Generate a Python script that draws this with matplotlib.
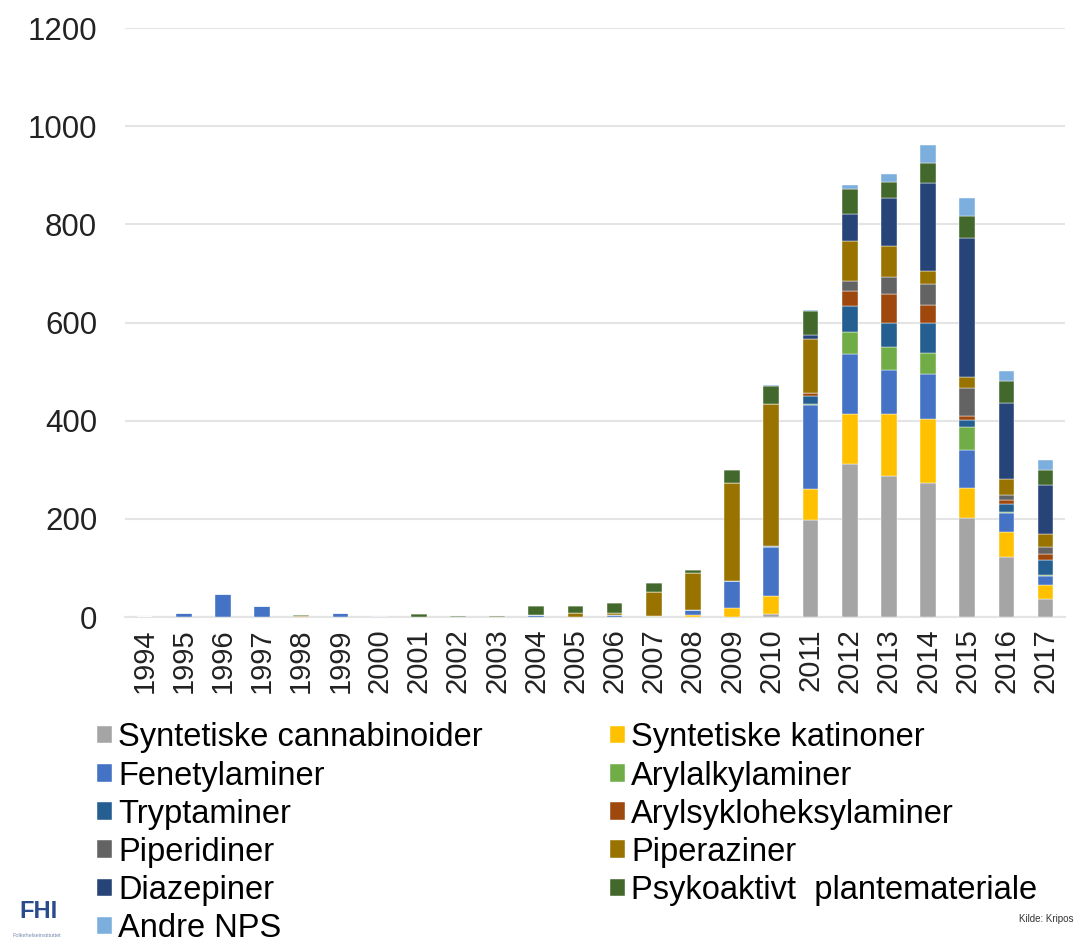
import matplotlib.pyplot as plt
import numpy as np

plt.rcParams['font.family'] = ['Liberation Sans', 'DejaVu Sans']

years = [str(y) for y in range(1994, 2018)]

# beslag per stoffgruppe og år (1994-2017)
cannabinoider = [0, 0, 0, 0, 0, 0, 0, 0, 0, 0, 0, 0, 0, 0, 0, 0, 7, 198, 311, 287, 273, 202, 122, 37]
katinoner     = [0, 0, 0, 0, 0, 0, 0, 0, 0, 0, 0, 0, 0, 0, 4, 18, 36, 62, 103, 126, 130, 61, 52, 29]
fenetylaminer = [0, 8, 46, 22, 0, 9, 3, 0, 0, 0, 5, 0, 4, 0, 10, 55, 99, 172, 122, 91, 93, 77, 37, 17]
arylalkyl     = [0, 0, 0, 0, 0, 0, 0, 0, 0, 0, 0, 0, 0, 3, 0, 0, 0, 2, 44, 47, 41, 47, 3, 3]
tryptaminer   = [0, 0, 0, 0, 0, 0, 0, 0, 0, 0, 0, 0, 0, 0, 0, 0, 2, 16, 53, 48, 62, 15, 17, 30]
arylsyklo     = [0, 0, 0, 0, 0, 0, 0, 0, 0, 0, 0, 0, 0, 0, 0, 0, 0, 6, 32, 59, 37, 7, 8, 12]
piperidiner   = [0, 0, 0, 0, 0, 0, 0, 0, 0, 0, 0, 0, 0, 0, 0, 0, 0, 0, 19, 34, 42, 58, 10, 15]
piperaziner   = [0, 0, 0, 0, 3, 0, 0, 0, 0, 0, 0, 9, 4, 47, 76, 200, 289, 111, 83, 64, 26, 21, 32, 26]
diazepiner    = [0, 0, 0, 0, 0, 0, 0, 0, 0, 0, 0, 0, 0, 0, 0, 0, 0, 7, 54, 98, 180, 285, 156, 100]
plantemat     = [0, 0, 0, 0, 2, 0, 0, 6, 2, 2, 18, 14, 21, 20, 5, 26, 37, 50, 50, 33, 41, 45, 44, 31]
andre         = [0, 0, 0, 0, 0, 0, 0, 0, 0, 0, 0, 0, 0, 0, 0, 0, 3, 2, 10, 16, 36, 36, 20, 20]

series = [
    ('Syntetiske cannabinoider', cannabinoider, '#A5A5A5'),
    ('Syntetiske katinoner', katinoner, '#FFC000'),
    ('Fenetylaminer', fenetylaminer, '#4472C4'),
    ('Arylalkylaminer', arylalkyl, '#70AD47'),
    ('Tryptaminer', tryptaminer, '#255E91'),
    ('Arylsykloheksylaminer', arylsyklo, '#9E480E'),
    ('Piperidiner', piperidiner, '#636363'),
    ('Piperaziner', piperaziner, '#997300'),
    ('Diazepiner', diazepiner, '#264478'),
    ('Psykoaktivt  plantemateriale', plantemat, '#43682B'),
    ('Andre NPS', andre, '#7CAFDD'),
]

fig = plt.figure(figsize=(10.77, 9.43), dpi=100)
ax = fig.add_axes([0.116, 0.3457, 0.873, 0.6246])

x = np.arange(len(years))
bunn = np.zeros(len(years))
handles = []
for navn, verdier, farge in series:
    b = ax.bar(x, verdier, 0.4, bottom=bunn, color=farge, label=navn,
               edgecolor='white', linewidth=0.3, zorder=3)
    bunn += np.array(verdier)
    handles.append(b)

ax.set_ylim(0, 1200)
ax.set_xlim(-0.5, len(years) - 0.5)
ax.set_yticks(range(0, 1201, 200))
ax.set_xticks(x)
ax.set_xticklabels(years, rotation=90)
ax.tick_params(axis='y', length=0, pad=20, labelsize=22.5, colors='#222222')
ax.tick_params(axis='x', length=0, pad=8, labelsize=21, colors='#222222')
ax.grid(axis='y', color='#E4E4E4', linewidth=1.5, zorder=0)
for s in ['top', 'right', 'left']:
    ax.spines[s].set_visible(False)
ax.spines['bottom'].set_color('#E4E4E4')
ax.spines['bottom'].set_linewidth(1.5)

# legenden leses radvis: to kolonner
rekkefolge = [0, 2, 4, 6, 8, 10, 1, 3, 5, 7, 9]
fig.legend([handles[i] for i in rekkefolge], [series[i][0] for i in rekkefolge],
           ncol=2, loc='upper left', bbox_to_anchor=(0.090, 0.234),
           frameon=False, fontsize=23.5, handlelength=0.45, handleheight=0.45,
           handletextpad=0.2, labelspacing=0.22, columnspacing=3.9,
           borderaxespad=0, borderpad=0)

fig.text(0.018, 0.027, 'FHI', fontsize=17, fontweight='bold', color='#2B4C8C')
fig.text(0.012, 0.006, 'Folkehelseinstituttet', fontsize=4, color='#7A8BB0')
fig.text(0.997, 0.022, 'Kilde: Kripos', fontsize=7, ha='right', color='#333333')

fig.savefig('out.png', dpi=100)
